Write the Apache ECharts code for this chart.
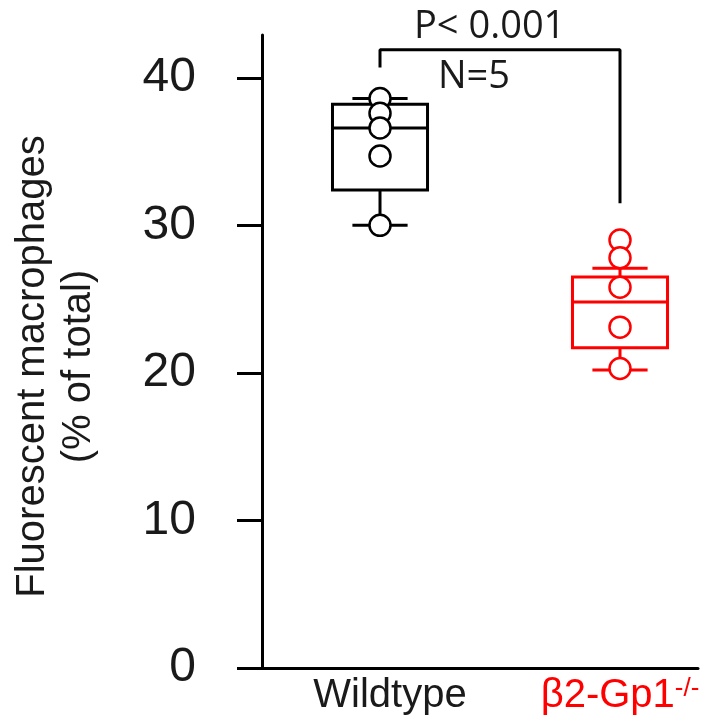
<!DOCTYPE html>
<html>
<head>
<meta charset="utf-8">
<script src="https://cdn.jsdelivr.net/npm/echarts@6/dist/echarts.min.js"></script>
<style>
html,body{margin:0;padding:0;background:#fff;}
#chart{width:715px;height:723px;}
</style>
</head>
<body>
<div id="chart"></div>
<script>
// ---- data ----
const categories = ['Wildtype', 'β2-Gp1'];
const categorySuperscript = ['', '-/-'];
const categoryPositions = [1, 2];
// [lower whisker, Q1, median, Q3, upper whisker]
const boxWildtype = [30.0, 32.4, 36.6, 38.2, 38.6];
const boxKnockout = [20.2, 21.7, 24.8, 26.5, 27.1];
const pointsWildtype = [38.6, 37.6, 36.6, 34.7, 30.0];
const pointsKnockout = [29.0, 27.8, 25.8, 23.1, 20.3];
const yTicks = [0, 10, 20, 30, 40];
const bracketX = [1, 1, 2, 2];
const bracketY = [40.7, 41.9, 41.9, 31.5];
const pValueText = 'P< 0.001';
const nText = 'N=5';
const yTitle = 'Fluorescent macrophages\n(% of total)';

// ---- styles ----
const colors = ['#000000', '#ff0000'];
const sansFont = '"Liberation Sans", Arial, Helvetica, sans-serif';

const chart = echarts.init(document.getElementById('chart'), null, {renderer: 'canvas'});

const boxData = [
  [categoryPositions[0]].concat(boxWildtype),
  [categoryPositions[1]].concat(boxKnockout)
];

function renderBox(params, api) {
  const x = api.value(0);
  const low = api.coord([x, api.value(1)]);
  const q1 = api.coord([x, api.value(2)]);
  const med = api.coord([x, api.value(3)]);
  const q3 = api.coord([x, api.value(4)]);
  const high = api.coord([x, api.value(5)]);
  const unit = api.size([1, 0])[0];
  const bw = unit * 0.198;
  const cw = unit * 0.115;
  const c = colors[params.dataIndex];
  const ls = {stroke: c, lineWidth: 3, fill: null};
  const cx = low[0];
  return {
    type: 'group',
    children: [
      {type: 'line', shape: {x1: cx, y1: q3[1], x2: cx, y2: high[1]}, style: ls},
      {type: 'line', shape: {x1: cx, y1: q1[1], x2: cx, y2: low[1]}, style: ls},
      {type: 'line', shape: {x1: cx - cw, y1: high[1], x2: cx + cw, y2: high[1]}, style: ls},
      {type: 'line', shape: {x1: cx - cw, y1: low[1], x2: cx + cw, y2: low[1]}, style: ls},
      {type: 'rect', shape: {x: cx - bw, y: q3[1], width: 2 * bw, height: q1[1] - q3[1]}, style: {stroke: c, lineWidth: 3, fill: 'rgba(0,0,0,0)'}},
      {type: 'line', shape: {x1: cx - bw, y1: med[1], x2: cx + bw, y2: med[1]}, style: ls}
    ]
  };
}

const option = {
  backgroundColor: '#ffffff',
  animation: false,
  grid: {left: 262, right: 17, top: 35, bottom: 55, containLabel: false},
  xAxis: {
    type: 'value',
    min: 0.5083,
    max: 2.325,
    splitLine: {show: false},
    axisLine: {show: true, onZero: false, lineStyle: {color: '#000', width: 3}},
    axisTick: {show: false},
    axisLabel: {
      show: true,
      customValues: categoryPositions,
      margin: 8,
      formatter: function (v) {
        const i = categoryPositions.indexOf(v);
        if (i === 0) return '{w|' + categories[0] + '}';
        if (i === 1) return '{r|' + categories[1] + '}{s|' + categorySuperscript[1] + '}';
        return '';
      },
      rich: {
        w: {fontSize: 40, fontFamily: sansFont, color: '#1a1a1a', padding: [0, 0, 0, 20]},
        r: {fontSize: 40, fontFamily: sansFont, color: '#ff0000'},
        s: {fontSize: 26, fontFamily: sansFont, color: '#ff0000', verticalAlign: 'top'}
      }
    }
  },
  yAxis: {
    type: 'value',
    min: 0,
    max: 42.9,
    splitLine: {show: false},
    axisLine: {show: true, lineStyle: {color: '#000', width: 3}},
    axisTick: {show: true, customValues: yTicks, length: 25, lineStyle: {color: '#000', width: 3}},
    axisLabel: {show: true, customValues: yTicks, margin: 66, fontSize: 48, fontFamily: sansFont, color: '#1a1a1a'},
    name: yTitle,
    nameLocation: 'middle',
    nameRotate: 90,
    nameGap: 160,
    nameTextStyle: {fontSize: 40, fontFamily: sansFont, color: '#1a1a1a', lineHeight: 46, align: 'center', padding: [0, 30, 0, 0]}
  },
  series: [
    {
      type: 'custom',
      renderItem: renderBox,
      data: boxData,
      encode: {x: 0, y: [1, 2, 3, 4, 5]},
      z: 2
    },
    {
      type: 'line',
      data: bracketX.map((x, i) => [x, bracketY[i]]),
      symbol: 'none',
      lineStyle: {color: '#000', width: 3},
      z: 1
    },
    {
      type: 'scatter',
      data: pointsWildtype.map(v => [categoryPositions[0], v]),
      symbol: 'circle',
      symbolSize: 21,
      itemStyle: {color: '#ffffff', borderColor: '#000', borderWidth: 2.5, opacity: 1},
      z: 3
    },
    {
      type: 'scatter',
      data: pointsKnockout.map(v => [categoryPositions[1], v]),
      symbol: 'circle',
      symbolSize: 21,
      itemStyle: {color: '#ffffff', borderColor: '#ff0000', borderWidth: 2.5, opacity: 1},
      z: 3
    }
  ],
  graphic: [
    {type: 'text', left: 414, top: 8, style: {text: pValueText, fontSize: 38, fontFamily: '"Open Sans", sans-serif', fill: '#1a1a1a'}},
    {type: 'text', left: 438, top: 58, style: {text: nText, fontSize: 38, fontFamily: '"Open Sans", sans-serif', fill: '#1a1a1a'}}
  ]
};

chart.setOption(option);
</script>
</body>
</html>
